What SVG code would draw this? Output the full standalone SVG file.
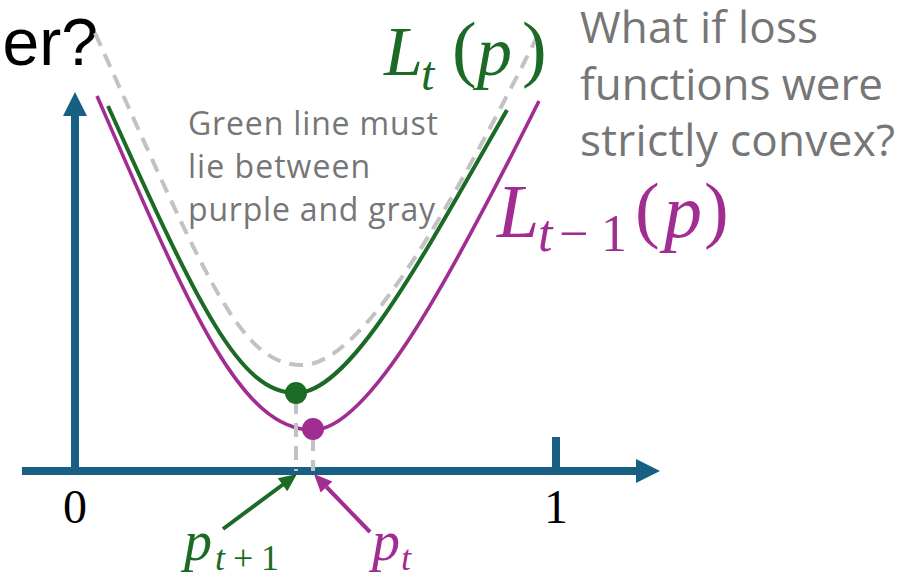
<svg xmlns="http://www.w3.org/2000/svg" width="897" height="576" viewBox="0 0 897 576">
<style>
.axis{stroke:#176084;stroke-width:8;fill:none}
.axhead{fill:#176084}
.dash{stroke:#c2c2c2;stroke-width:4;fill:none;stroke-dasharray:14 9}
.green{stroke:#1b6b26;stroke-width:4;fill:none}
.purple{stroke:#a22d92;stroke-width:3.6;fill:none}
.note{font-family:"Open Sans","Liberation Sans",sans-serif;fill:#767676}
.math{font-family:"Liberation Serif","DejaVu Serif",serif}
.it{font-style:italic}
.g{fill:#1b6b26}
.p{fill:#a22d92}
</style>
<rect width="897" height="576" fill="#ffffff"/>

<g id="title-fragment">
<text x="98" y="65" text-anchor="end" font-family="Liberation Sans, Arial, sans-serif" font-size="66" fill="#000">er?</text>
</g>

<g id="axes">
<line class="axis" x1="22" y1="471" x2="640" y2="471"/>
<polygon class="axhead" points="660,471 636,459 636,483"/>
<line class="axis" x1="75" y1="475" x2="75" y2="112"/>
<polygon class="axhead" points="75,92 63,116 87,116"/>
<line class="axis" x1="556" y1="437" x2="556" y2="471"/>
<text class="math" x="75" y="523" text-anchor="middle" font-size="48" fill="#000">0</text>
<text class="math" x="556" y="523" text-anchor="middle" font-size="48" fill="#000">1</text>
</g>

<g id="curve-gray">
<path class="dash" d="M95,33 C208,283 240,365 302,365 C355,365 430,250 537,37"/>
</g>
<g id="curve-purple">
<path class="purple" d="M97,96 C190,310 240,430 313,430 C370,430 454,271 539,101"/>
</g>
<g id="curve-green">
<path class="green" d="M108,106 C200,310 240,393 296,393 C350,393 421,260 507,110"/>
</g>

<g id="connectors">
<line class="dash" x1="296" y1="400" x2="296" y2="471"/>
<line class="dash" x1="313" y1="437" x2="313" y2="471"/>
<line stroke="#1b6b26" stroke-width="4" x1="223" y1="529" x2="283" y2="484.5"/>
<polygon class="g" points="297,474 287.3,491.2 277.8,478.3"/>
<line stroke="#a22d92" stroke-width="4" x1="370" y1="532" x2="326.5" y2="487"/>
<polygon class="p" points="314,474 332.3,481.4 320.7,492.5"/>
</g>

<g id="point-green">
<circle cx="296" cy="393" r="11" fill="#1b6b26"/>
</g>
<g id="point-purple">
<circle cx="313" cy="429" r="11" fill="#a22d92"/>
</g>

<g id="label-Lt">
<text class="math g"><tspan class="it" x="384" y="75" font-size="70">L</tspan><tspan class="it" x="421" y="90" font-size="48">t</tspan><tspan x="452" y="73" font-size="74">(</tspan><tspan class="it" x="477" y="75" font-size="70">p</tspan><tspan x="522" y="73" font-size="74">)</tspan></text>
</g>

<g id="label-Lt-1">
<text class="math p"><tspan class="it" x="497" y="237" font-size="76">L</tspan><tspan class="it" x="538" y="251" font-size="52">t</tspan><tspan x="559" y="251" font-size="52">−</tspan><tspan x="601" y="251" font-size="52">1</tspan><tspan x="635" y="234" font-size="74">(</tspan><tspan class="it" x="664" y="237" font-size="76">p</tspan><tspan x="704" y="234" font-size="74">)</tspan></text>
</g>

<g id="label-pt1">
<text class="math g"><tspan class="it" x="184" y="560" font-size="56">p</tspan><tspan class="it" x="215" y="570" font-size="36">t</tspan><tspan x="233" y="570" font-size="36">+</tspan><tspan x="261" y="570" font-size="36">1</tspan></text>
</g>

<g id="label-pt">
<text class="math p"><tspan class="it" x="372" y="560" font-size="56">p</tspan><tspan class="it" x="401" y="570" font-size="36">t</tspan></text>
</g>

<g id="note-between">
<text class="note" font-size="32"><tspan x="188" y="135" textLength="250" lengthAdjust="spacing">Green line must</tspan><tspan x="188" y="178" textLength="182" lengthAdjust="spacing">lie between</tspan><tspan x="188" y="221" textLength="247" lengthAdjust="spacing">purple and gray</tspan></text>
</g>

<g id="note-convex">
<text class="note" font-size="44"><tspan x="580" y="43" textLength="238" lengthAdjust="spacing">What if loss</tspan><tspan x="580" y="100" textLength="303" lengthAdjust="spacing">functions were</tspan><tspan x="580" y="156" textLength="315" lengthAdjust="spacing">strictly convex?</tspan></text>
</g>
</svg>
